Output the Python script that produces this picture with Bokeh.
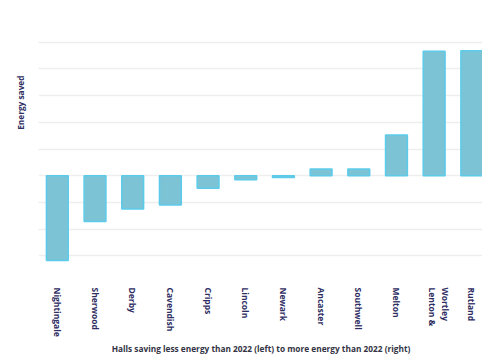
from bokeh.plotting import figure
from bokeh.models import ColumnDataSource, Range1d, FixedTicker, Title
from bokeh.embed import file_html
from bokeh.resources import INLINE

# Energy saved per hall relative to 2022 (arbitrary units)
halls = ["Nightingale", "Sherwood", "Derby", "Cavendish", "Cripps", "Lincoln",
         "Newark", "Ancaster", "Southwell", "Melton", "Lenton & Wortley", "Rutland"]
energy_saved = [-3.18, -1.72, -1.25, -1.10, -0.47, -0.15,
                -0.07, 0.25, 0.25, 1.52, 4.66, 4.68]

positions = list(range(len(halls)))
src = ColumnDataSource(dict(x=positions, top=energy_saved))

# Tick labels: long names are broken over two vertical columns, each with
# its own tick slightly either side of the bar centre.
tick_pos, tick_text = [], []
for i, name in enumerate(halls):
    if " & " in name:
        first, second = name.split(" & ")
        tick_pos += [i - 0.04, i + 0.3]
        tick_text += [first + " &", second]
    else:
        tick_pos.append(i)
        tick_text.append(name)

NAVY = "#2e2d62"

p = figure(frame_width=445, frame_height=267, output_backend="svg",
           toolbar_location=None,
           x_range=Range1d(-0.5, 11.31), y_range=Range1d(-4, 6),
           min_border_left=37, min_border_right=0, min_border_top=15,
           min_border_bottom=70)
p.outline_line_color = None
p.background_fill_color = "white"
p.border_fill_color = "white"

p.vbar(x="x", top="top", bottom=0, width=0.58, source=src,
       fill_color="#7cc3d6", line_color="#5ccbea", line_width=1.5)

# y axis: grid only, no ticks or labels
p.yaxis.visible = False
p.ygrid.ticker = FixedTicker(ticks=list(range(-4, 7)))
p.ygrid.grid_line_color = "#eeeeee"
p.ygrid.grid_line_width = 1.5
p.xgrid.grid_line_color = None

# x axis with hall names
p.xaxis.ticker = FixedTicker(ticks=tick_pos)
p.xaxis.major_label_overrides = dict(zip(tick_pos, tick_text))
p.xaxis.major_label_orientation = "vertical"
p.xaxis.axis_line_color = None
p.xaxis.major_tick_line_color = None
p.xaxis.minor_tick_line_color = None
p.xaxis.major_tick_in = 0
p.xaxis.major_tick_out = 0
p.xaxis.major_label_standoff = 5
p.xaxis.major_label_text_font = "Open Sans"
p.xaxis.major_label_text_font_size = "8.5px"
p.xaxis.major_label_text_font_style = "bold"
p.xaxis.major_label_text_color = NAVY
p.xaxis.axis_label = "Halls saving less energy than 2022 (left) to more energy than 2022 (right)"
p.xaxis.axis_label_text_font = "Open Sans"
p.xaxis.axis_label_text_font_size = "8.3px"
p.xaxis.axis_label_text_font_style = "bold"
p.xaxis.axis_label_text_color = "#333344"
p.xaxis.axis_label_standoff = 3

# vertical title for the value axis
p.add_layout(Title(text="Energy saved", align="right", offset=60,
                   text_font="Open Sans", text_font_size="8.3px",
                   text_font_style="bold", text_color=NAVY,
                   standoff=25), "left")

open("out.html", "w").write(file_html(p, INLINE))
